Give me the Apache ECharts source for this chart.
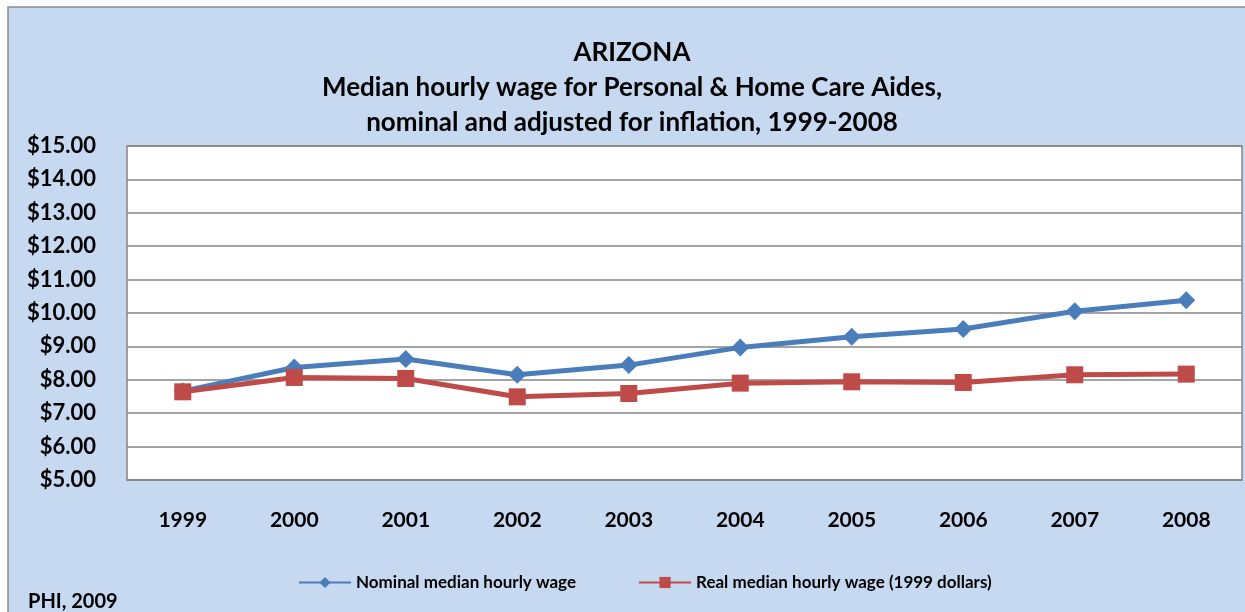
<!DOCTYPE html>
<html>
<head>
<meta charset="utf-8">
<script src="https://cdn.jsdelivr.net/npm/echarts@6/dist/echarts.min.js"></script>
<style>
    html, body { margin: 0; padding: 0; background: #fff; }
    #chart { width: 1245px; height: 612px; }
</style>
</head>
<body>
<div id="chart"></div>
<script>
// data
var years = ['1999', '2000', '2001', '2002', '2003', '2004', '2005', '2006', '2007', '2008'];
var nominalWage = [7.66, 8.37, 8.62, 8.15, 8.44, 8.97, 9.29, 9.52, 10.05, 10.38];
var realWage = [7.64, 8.07, 8.04, 7.49, 7.59, 7.90, 7.94, 7.92, 8.15, 8.17];
var yTicks = { min: 5, max: 15, step: 1 };

var FONT = 'Lato';

function drawLines( id ) {
    var myChart = echarts.init(document.getElementById( id )),
        option = {
            animation: false,
            backgroundColor: '#fff',
            textStyle: { fontFamily: FONT },
            graphic: [
                {
                    type: 'rect',
                    z: -10,
                    shape: { x: 8, y: 7, width: 1260, height: 620 },
                    style: { fill: '#C6D9F1', stroke: '#8C8C8C', lineWidth: 1.5 }
                },
                {
                    type: 'text',
                    left: 28,
                    top: 592,
                    style: { text: 'PHI, 2009', font: 'bold 20px ' + FONT, fill: '#000' }
                }
            ],
            title: {
                text: 'ARIZONA\nMedian hourly wage for Personal & Home Care Aides,\nnominal and adjusted for inflation, 1999-2008',
                left: 627,
                textAlign: 'center',
                top: 30,
                textStyle: {
                    fontFamily: FONT,
                    fontSize: 26,
                    fontWeight: 'bold',
                    color: '#000',
                    lineHeight: 35
                }
            },
            legend: {
                bottom: 16,
                left: 293,
                itemGap: 62,
                itemWidth: 52,
                itemHeight: 14,
                textStyle: { fontFamily: FONT, fontSize: 17, fontWeight: 'bold', color: '#000' },
                data: ['Nominal median hourly wage', 'Real median hourly wage (1999 dollars)']
            },
            grid: {
                left: 127,
                right: 3,
                top: 146,
                bottom: 132,
                show: true,
                backgroundColor: '#fff',
                borderColor: '#868686',
                borderWidth: 1.5
            },
            xAxis: {
                type: 'category',
                data: years,
                axisTick: { show: false },
                axisLine: { lineStyle: { color: '#868686', width: 1.5 } },
                axisLabel: {
                    margin: 30,
                    fontFamily: FONT,
                    fontSize: 21,
                    fontWeight: 'bold',
                    color: '#000'
                }
            },
            yAxis: {
                type: 'value',
                min: yTicks.min,
                max: yTicks.max,
                interval: yTicks.step,
                axisLine: { show: false },
                axisTick: { show: false },
                splitLine: { lineStyle: { color: '#868686', width: 1.5 } },
                axisLabel: {
                    margin: 31,
                    fontFamily: FONT,
                    fontSize: 22,
                    fontWeight: 'bold',
                    color: '#000',
                    formatter: function ( v ) { return '$' + v.toFixed(2); }
                }
            },
            series: [
                {
                    name: 'Nominal median hourly wage',
                    type: 'line',
                    data: nominalWage,
                    symbol: 'diamond',
                    symbolSize: 18,
                    itemStyle: { color: '#4A7EBB' },
                    lineStyle: { color: '#4A7EBB', width: 5 }
                },
                {
                    name: 'Real median hourly wage (1999 dollars)',
                    type: 'line',
                    data: realWage,
                    symbol: 'rect',
                    symbolSize: 17,
                    itemStyle: { color: '#BE4B48' },
                    lineStyle: { color: '#BE4B48', width: 5 }
                }
            ]
        };

    myChart.setOption(option);
}

drawLines('chart');
</script>
</body>
</html>
